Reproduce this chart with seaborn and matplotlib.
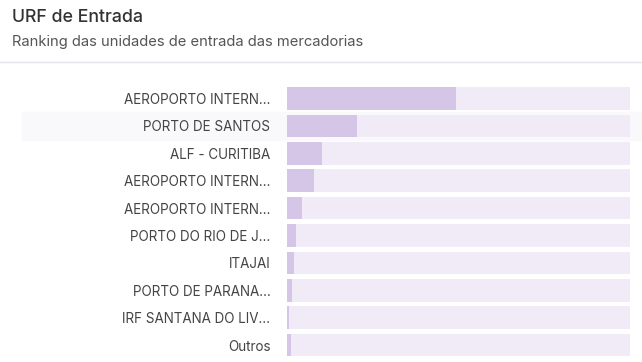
import matplotlib
matplotlib.use("Agg")
import matplotlib.pyplot as plt
import seaborn as sns
import pandas as pd
from matplotlib.lines import Line2D

categories = [
    "AEROPORTO INTERN…",
    "PORTO DE SANTOS",
    "ALF - CURITIBA",
    "AEROPORTO INTERN…",
    "AEROPORTO INTERN…",
    "PORTO DO RIO DE J…",
    "ITAJAI",
    "PORTO DE PARANA…",
    "IRF SANTANA DO LIV…",
    "Outros",
]
values = [49.3, 20.4, 10.2, 7.9, 4.4, 2.6, 2.0, 1.5, 0.6, 1.1]
track_max = 100.0
title = "URF de Entrada"
subtitle = "Ranking das unidades de entrada das mercadorias"

sns.set_theme(style="white")
plt.rcParams["font.family"] = ["Inter", "DejaVu Sans"]

df = pd.DataFrame({"cat": [f"{i}" for i in range(len(categories))],
                   "label": categories, "value": values,
                   "track": [track_max] * len(categories)})

fig = plt.figure(figsize=(6.42, 3.62), dpi=100)
ax = fig.add_axes([287 / 642, 1 - 358.8 / 362, 343 / 642, 274 / 362])

sns.barplot(data=df, x="track", y="cat", color="#f1eaf7", saturation=1,
            width=0.82, ax=ax, orient="h", linewidth=0)
sns.barplot(data=df, x="value", y="cat", color="#d5c6e8", saturation=1,
            width=0.82, ax=ax, orient="h", linewidth=0)

# hover highlight on second row
ax.axhspan(0.5, 1.5, xmin=(22 - 287) / 343, xmax=(642 - 287) / 343,
           color="#f9f9fb", zorder=0, clip_on=False)

ax.set_xlim(0, track_max)
ax.set_ylim(len(categories) - 0.5, -0.5)
ax.set_yticks(range(len(categories)))
ax.set_yticklabels(categories, fontsize=9.7, color="#444444")
ax.tick_params(axis="y", length=0, pad=12)
ax.set_xticks([])
ax.set_xlabel("")
ax.set_ylabel("")
for s in ax.spines.values():
    s.set_visible(False)
ax.set_facecolor("none")

fig.text(12 / 642, 1 - 18 / 362, title, fontsize=12.8, color="#333333",
         va="center", ha="left", fontweight="medium")
fig.text(12 / 642, 1 - 42 / 362, subtitle, fontsize=10.6, color="#555555",
         va="center", ha="left")
fig.add_artist(Line2D([0, 1], [1 - 61.5 / 362] * 2, color="#e4e4ea", lw=1,
                      transform=fig.transFigure))

fig.savefig("out.png", dpi=100, facecolor="white")
